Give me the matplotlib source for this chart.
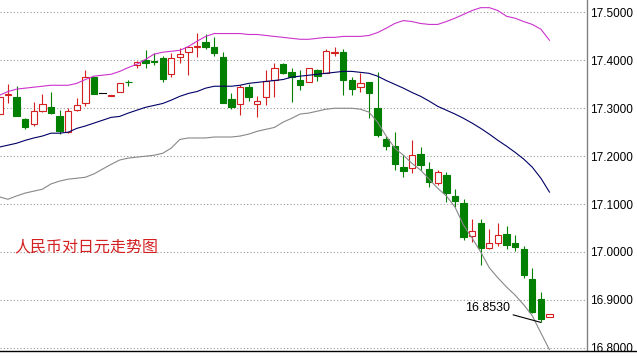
import matplotlib
matplotlib.use("Agg")
import matplotlib.pyplot as plt
from matplotlib.patches import Rectangle
from matplotlib.lines import Line2D
import numpy as np

# ---------------- data ----------------
opens = [17.288, 17.327, 17.323, 17.277, 17.267, 17.294, 17.302, 17.283, 17.250, 17.296,
         17.310, 17.365, 17.331, 17.326, 17.333, 17.355, 17.390, 17.400, 17.399, 17.404,
         17.371, 17.406, 17.417, 17.427, 17.438, 17.427, 17.408, 17.319, 17.308, 17.344,
         17.308, 17.323, 17.358, 17.392, 17.375, 17.358, 17.354, 17.379, 17.373, 17.416,
         17.417, 17.358, 17.344, 17.354, 17.300, 17.235, 17.221, 17.177, 17.175, 17.204,
         17.173, 17.144, 17.160, 17.117, 17.102, 17.033, 17.060, 17.008, 17.019, 17.038,
         17.019, 17.006, 16.944, 16.902, 16.865]
highs = [17.327, 17.350, 17.346, 17.279, 17.313, 17.329, 17.333, 17.296, 17.300, 17.321,
         17.379, 17.365, 17.331, 17.328, 17.352, 17.360, 17.398, 17.421, 17.415, 17.410,
         17.415, 17.425, 17.427, 17.458, 17.454, 17.448, 17.417, 17.331, 17.348, 17.350,
         17.325, 17.379, 17.394, 17.394, 17.385, 17.379, 17.385, 17.383, 17.423, 17.427,
         17.423, 17.365, 17.373, 17.354, 17.375, 17.242, 17.250, 17.202, 17.233, 17.219,
         17.188, 17.171, 17.167, 17.131, 17.110, 17.069, 17.069, 17.048, 17.060, 17.054,
         17.035, 17.013, 16.967, 16.917, 16.871]
lows = [17.283, 17.310, 17.283, 17.256, 17.262, 17.292, 17.288, 17.246, 17.248, 17.294,
        17.304, 17.329, 17.331, 17.326, 17.333, 17.346, 17.385, 17.385, 17.390, 17.354,
        17.365, 17.394, 17.369, 17.408, 17.423, 17.410, 17.310, 17.298, 17.285, 17.315,
        17.281, 17.306, 17.323, 17.371, 17.313, 17.338, 17.354, 17.356, 17.373, 17.410,
        17.327, 17.327, 17.335, 17.279, 17.240, 17.213, 17.171, 17.156, 17.165, 17.171,
        17.135, 17.140, 17.104, 17.094, 17.025, 17.021, 16.973, 17.006, 17.013, 17.006,
        17.002, 16.946, 16.873, 16.853, 16.865]
closes = [17.323, 17.330, 17.283, 17.260, 17.294, 17.308, 17.290, 17.252, 17.294, 17.306,
          17.365, 17.329, 17.331, 17.328, 17.352, 17.354, 17.396, 17.394, 17.397, 17.362,
          17.404, 17.413, 17.427, 17.429, 17.427, 17.415, 17.310, 17.302, 17.344, 17.323,
          17.315, 17.356, 17.385, 17.373, 17.365, 17.348, 17.385, 17.367, 17.419, 17.418,
          17.360, 17.340, 17.352, 17.331, 17.244, 17.221, 17.183, 17.169, 17.202, 17.181,
          17.146, 17.167, 17.123, 17.106, 17.031, 17.044, 17.008, 17.019, 17.035, 17.015,
          17.010, 16.952, 16.875, 16.860, 16.871]

upper = [17.327, 17.335, 17.340, 17.342, 17.344, 17.346, 17.348, 17.348, 17.348, 17.352,
         17.360, 17.367, 17.369, 17.371, 17.377, 17.385, 17.392, 17.402, 17.413, 17.417,
         17.419, 17.421, 17.429, 17.440, 17.450, 17.456, 17.456, 17.456, 17.456, 17.454,
         17.454, 17.452, 17.450, 17.448, 17.446, 17.444, 17.444, 17.446, 17.448, 17.448,
         17.450, 17.450, 17.450, 17.452, 17.458, 17.467, 17.477, 17.483, 17.481, 17.477,
         17.475, 17.475, 17.481, 17.488, 17.496, 17.504, 17.510, 17.510, 17.504, 17.492,
         17.488, 17.481, 17.475, 17.465, 17.442]
middle = [17.219, 17.223, 17.227, 17.233, 17.238, 17.242, 17.248, 17.248, 17.250, 17.258,
          17.263, 17.269, 17.275, 17.281, 17.283, 17.290, 17.296, 17.302, 17.306, 17.310,
          17.317, 17.325, 17.331, 17.335, 17.342, 17.346, 17.346, 17.346, 17.348, 17.352,
          17.354, 17.356, 17.358, 17.360, 17.365, 17.367, 17.369, 17.371, 17.373, 17.375,
          17.377, 17.377, 17.375, 17.373, 17.367, 17.358, 17.350, 17.342, 17.333, 17.325,
          17.315, 17.304, 17.296, 17.288, 17.279, 17.269, 17.258, 17.246, 17.233, 17.221,
          17.208, 17.194, 17.177, 17.154, 17.125]
lower = [17.115, 17.110, 17.117, 17.123, 17.127, 17.131, 17.142, 17.148, 17.152, 17.154,
         17.156, 17.163, 17.173, 17.183, 17.192, 17.196, 17.198, 17.200, 17.202, 17.206,
         17.217, 17.235, 17.238, 17.238, 17.238, 17.240, 17.240, 17.240, 17.242, 17.246,
         17.252, 17.256, 17.260, 17.271, 17.279, 17.288, 17.290, 17.294, 17.298, 17.300,
         17.300, 17.300, 17.298, 17.292, 17.271, 17.242, 17.217, 17.202, 17.185, 17.171,
         17.152, 17.133, 17.117, 17.094, 17.056, 17.029, 17.000, 16.967, 16.946, 16.927,
         16.910, 16.890, 16.867, 16.831, 16.796]

y_ticks = [16.8, 16.9, 17.0, 17.1, 17.2, 17.3, 17.4, 17.5]
y_tick_labels = ["16.8000", "16.9000", "17.0000", "17.1000", "17.2000", "17.3000", "17.4000", "17.5000"]
title_text = "人民币对日元走势图"
low_label = "16.8530"

# ---------------- styling ----------------
RED = "#d42020"
GREEN = "#007f00"
MAGENTA = "#cc33cc"
NAVY = "#000066"
GRAY = "#888888"
LW = 0.8

fig = plt.figure(figsize=(6.37, 3.58), dpi=100)
fig.patch.set_facecolor("white")
ax = fig.add_axes([0, 1 - 350 / 358, 587 / 637, 350 / 358])

n = len(opens)
xs = np.arange(1, n + 1)
w = 0.74

for x, o, h, l, c in zip(xs, opens, highs, lows, closes):
    if c > o:
        col = RED
        ax.plot([x, x], [l, h], color=col, lw=LW, zorder=2, solid_capstyle="butt")
        ax.add_patch(Rectangle((x - w / 2, o), w, c - o, facecolor="white",
                               edgecolor=col, lw=LW, zorder=3))
    elif c < o:
        col = GREEN
        ax.plot([x, x], [l, h], color=col, lw=LW, zorder=2, solid_capstyle="butt")
        ax.add_patch(Rectangle((x - w / 2, c), w, o - c, facecolor=col,
                               edgecolor=col, lw=LW, zorder=3))
    else:
        ax.plot([x, x], [l, h], color="black", lw=LW, zorder=2)
        ax.plot([x - w / 2, x + w / 2], [o, o], color="black", lw=LW, zorder=3)

ax.plot(xs, upper, color=MAGENTA, lw=LW, zorder=4)
ax.plot(xs, middle, color=NAVY, lw=LW, zorder=4)
ax.plot(xs, lower, color=GRAY, lw=LW, zorder=4)

ax.set_xlim(1.0698, 69.366)
ax.set_ylim(16.7954, 17.526)

ax.set_yticks(y_ticks)
ax.set_yticklabels(y_tick_labels, fontsize=8.5, family="Liberation Sans")
ax.yaxis.tick_right()
ax.tick_params(axis="y", length=0, pad=2.5)
ax.set_xticks([])
ax.grid(axis="y", color="#9a9a9a", linestyle=(0, (1, 2)), lw=0.8, zorder=0)

for s in ["top", "left", "bottom"]:
    ax.spines[s].set_visible(False)
ax.spines["right"].set_color("#808080")
ax.spines["right"].set_linewidth(1.0)

fig.add_artist(Line2D([0, 1], [1 - 350.5 / 358, 1 - 350.5 / 358],
                      transform=fig.transFigure, color="black", lw=1.0))

imin = int(np.argmin(lows))
ax.annotate(low_label, xy=(xs[imin], lows[imin]), xytext=(-22, 6),
            textcoords="offset points", ha="right", va="bottom",
            fontsize=9, family="Liberation Sans", color="black",
            arrowprops=dict(arrowstyle="-", color="black", lw=LW,
                            shrinkA=0, shrinkB=0, relpos=(1, 0)), zorder=5)

fig.text(14 / 637, 1 - 247 / 358, title_text, color=RED, fontsize=11.5,
         family=["Noto Sans CJK SC", "DejaVu Sans"], ha="left", va="center")

fig.savefig("out.png", dpi=100, facecolor="white")
